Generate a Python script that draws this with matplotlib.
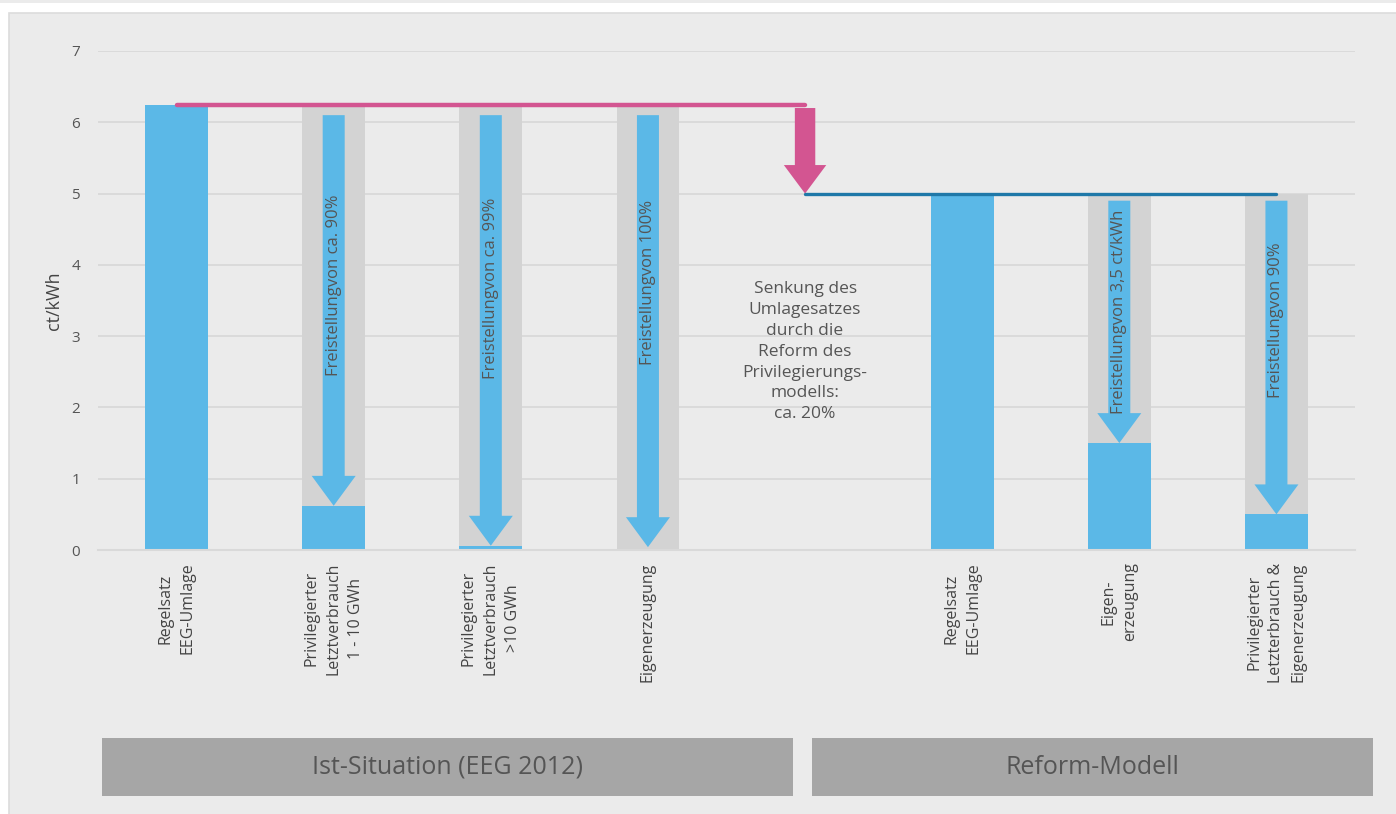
import matplotlib.pyplot as plt
from matplotlib.patches import Rectangle

# data
ist_labels = ["Regelsatz\nEEG-Umlage",
              "Privilegierter\nLetztverbrauch\n1 - 10 GWh",
              "Privilegierter\nLetztverbrauch\n>10 GWh",
              "Eigenerzeugung"]
reform_labels = ["Regelsatz\nEEG-Umlage",
                 "Eigen-\nerzeugung",
                 "Privilegierter\nLetzterbrauch &\nEigenerzeugung"]
ist_values = [6.24, 0.62, 0.06, 0.0]
reform_values = [4.99, 1.5, 0.5]
ist_rate = 6.24
reform_rate = 5.0
ist_arrow_start = 6.1
reform_arrow_start = 4.9
ist_arrow_text = [None, "Freistellungvon ca. 90%", "Freistellungvon ca. 99%", "Freistellungvon 100%"]
reform_arrow_text = [None, "Freistellungvon 3,5 ct/kWh", "Freistellungvon 90%"]
group_names = ["Ist-Situation (EEG 2012)", "Reform-Modell"]
note = "Senkung des\nUmlagesatzes\ndurch die\nReform des\nPrivilegierungs-\nmodells:\nca. 20%"

BLUE = "#5bb8e7"
GREY_COL = "#d3d3d3"
PINK = "#d35591"
DARK_BLUE = "#1f78a8"
TXT = "#555555"
PANEL = "#ebebeb"

plt.rcParams['font.family'] = ['Open Sans', 'DejaVu Sans']


def main():
    fig = plt.figure(figsize=(13.96, 8.14), dpi=100, facecolor="white")
    # page background panels
    fig.patches.append(Rectangle((0, 1 - 3 / 814), 1, 3 / 814, transform=fig.transFigure,
                                 facecolor=PANEL, edgecolor="none", zorder=-2))
    fig.patches.append(Rectangle((9 / 1396, -0.01), 1.0, 1 - 13 / 814 + 0.01, transform=fig.transFigure,
                                 facecolor=PANEL, edgecolor="#dcdcdc", linewidth=1.2, zorder=-2))

    ax = fig.add_axes([98 / 1396, (814 - 550) / 814, (1355 - 98) / 1396, (550 - 51) / 814])
    ax.set_facecolor("none")
    ax.set_zorder(2)

    n_ist = len(ist_values)
    x_ist = list(range(n_ist))
    x_ref = [n_ist + 1 + i for i in range(len(reform_values))]
    gap_x = n_ist
    xs = x_ist + x_ref
    values = ist_values + reform_values
    labels = ist_labels + reform_labels
    texts = ist_arrow_text + reform_arrow_text
    levels = [ist_rate] * n_ist + [reform_rate] * len(reform_values)
    starts = [ist_arrow_start] * n_ist + [reform_arrow_start] * len(reform_values)

    w = 0.4
    ax.bar(xs, levels, width=w, color=GREY_COL, zorder=2)
    ax.bar(xs, values, width=w, color=BLUE, zorder=3)

    text_tops = [None, 4.98, 4.95, 4.91, None, 4.77, 4.32]
    for x, v, s, t, tt in zip(xs, values, starts, texts, text_tops):
        if t is None:
            continue
        tip = max(v, 0.04)
        ax.arrow(x, s, 0, tip - s, width=0.14, head_width=0.28, head_length=0.42,
                 length_includes_head=True, color=BLUE, linewidth=0, zorder=4)
        ax.text(x, tt, t, rotation=90, ha="center", va="top", fontsize=12,
                color=TXT, zorder=5)

    # reduction of the rate
    ax.plot([x_ist[0], gap_x], [ist_rate, ist_rate], color=PINK, lw=3.2,
            solid_capstyle="round", zorder=5)
    ax.arrow(gap_x, ist_rate - 0.04, 0, reform_rate - ist_rate + 0.04, width=0.13,
             head_width=0.27, head_length=0.4, length_includes_head=True,
             color=PINK, linewidth=0, zorder=5)
    ax.plot([gap_x, x_ref[-1]], [reform_rate, reform_rate], color=DARK_BLUE, lw=2.4,
            solid_capstyle="round", zorder=5)
    ax.text(gap_x, 2.78, note, ha="center", va="center", fontsize=12.5, color=TXT,
            linespacing=1.4, zorder=5)

    ax.set_xlim(-0.5, 7.5)
    ax.set_ylim(0, 7)
    ax.set_yticks(range(0, 8))
    ax.yaxis.grid(True, color="#d9d9d9", linewidth=1.3, zorder=0)
    ax.set_axisbelow(True)
    for sp in ["top", "right", "left"]:
        ax.spines[sp].set_visible(False)
    ax.spines["bottom"].set_color("#d9d9d9")
    ax.spines["bottom"].set_linewidth(1.5)
    ax.spines["bottom"].set_zorder(6)

    ax.set_xticks(xs)
    ax.set_xticklabels(labels, rotation=90, fontsize=11.5, color="#444444", linespacing=1.5)
    for lab in ax.get_xticklabels():
        lab.set_multialignment("center")
    ax.tick_params(axis="x", length=0, pad=9)
    ax.tick_params(axis="y", length=0, pad=13, labelsize=11, labelcolor=TXT)
    ax.set_ylabel("ct/kWh", fontsize=13, color="#444444", labelpad=6)

    # group boxes
    boxes = [(102, 793), (812, 1373)]
    for (x0, x1), name in zip(boxes, group_names):
        fig.patches.append(Rectangle((x0 / 1396, (814 - 796) / 814), (x1 - x0) / 1396, 58 / 814,
                                     transform=fig.transFigure, facecolor="#a6a6a6",
                                     edgecolor="none", zorder=1))
        fig.text((x0 + x1) / 2 / 1396, (814 - 767) / 814, name, ha="center", va="center",
                 fontsize=18, color="#555555")

    fig.savefig("out.png", dpi=100, facecolor=fig.get_facecolor())


if __name__ == "__main__":
    main()
